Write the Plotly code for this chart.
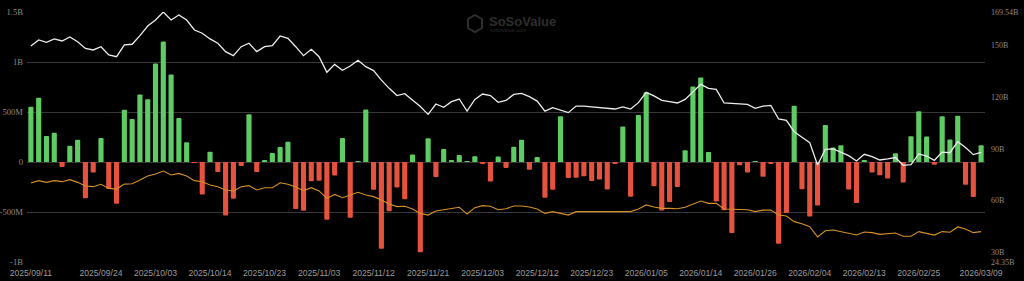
import pandas as pd
import plotly.graph_objects as go

# ---------------- data ----------------
holidays = ["2025-11-27", "2025-12-25", "2026-01-01", "2026-01-19", "2026-02-16"]
_days = pd.bdate_range("2025-09-11", "2026-03-09")
dates = [d.strftime("%Y/%m/%d") for d in _days if d.strftime("%Y-%m-%d") not in holidays]

# daily total net inflow (million USD)
net_inflow_m = [
    553, 642, 260, 293, -51, 163, 223, -363, -104, 241,
    -270, -418, 522, 430, 676, 627, 985, 1205, 876, 441,
    198, -5, -326, 103, -100, -536, -367, -40, 477, -101,
    20, 91, 149, 202, -471, -488, -192, -187, -578, -135,
    240, -558, 1, 524, -278, -867, -492, -254, -373, 75,
    -903, 238, -151, 129, 21, 71, 8, 58, -15, -195,
    55, -60, 152, 223, -77, 49, -358, -277, 457, -161,
    -158, -142, -189, -175, -276, -19, 355, -348, 471, 697,
    -243, -486, -399, -250, 117, 754, 844, 100, -395, -483,
    -709, -32, -104, 7, -147, -20, -818, -510, 562, -272,
    -545, -434, 371, 145, 167, -276, -410, 15, -105, -133,
    -166, 88, -204, 258, 507, 254, -28, 458, 225, 462,
    -228, -349, 167,
]

# total net assets (billion USD)
net_assets_b = [
    149.8, 153.3, 151.9, 153.9, 152.7, 155.0, 152.3, 148.4, 147.5, 149.4,
    144.6, 143.6, 150.4, 150.8, 155.8, 161.4, 164.9, 169.5, 164.9, 167.8,
    164.9, 159.1, 157.2, 153.9, 151.4, 146.5, 144.2, 149.4, 151.4, 146.5,
    149.4, 150.0, 155.6, 154.2, 149.4, 144.2, 147.9, 143.6, 134.5, 139.1,
    135.7, 138.2, 141.5, 137.8, 135.5, 130.0, 125.2, 121.0, 122.1, 118.4,
    114.6, 110.1, 116.1, 114.2, 117.5, 119.0, 112.0, 118.8, 121.9, 121.0,
    117.1, 118.2, 121.7, 122.3, 120.4, 117.8, 112.0, 114.0, 112.6, 111.1,
    114.9, 114.9, 114.4, 114.0, 113.6, 113.2, 114.4, 113.2, 116.9, 122.9,
    120.8, 118.2, 117.5, 116.7, 118.8, 122.9, 127.5, 125.2, 124.6, 116.7,
    116.3, 116.1, 115.9, 113.6, 114.9, 115.3, 107.4, 106.6, 100.0, 96.8,
    93.7, 80.7, 89.8, 90.0, 88.2, 86.1, 83.0, 86.9, 85.5, 83.6,
    84.2, 85.0, 80.5, 80.9, 87.1, 85.9, 83.4, 88.2, 87.8, 94.2,
    90.9, 86.7, 88.0,
]

# second line (orange), read in right-axis units
orange_line = [
    70.2, 71.6, 70.6, 71.6, 71.0, 72.2, 70.6, 68.5, 68.1, 69.5,
    67.1, 66.7, 69.6, 69.8, 72.0, 74.3, 75.5, 77.2, 74.9, 75.8,
    74.3, 71.6, 71.0, 69.1, 68.1, 66.2, 65.6, 68.1, 68.7, 66.2,
    67.5, 67.5, 70.4, 69.5, 67.9, 65.8, 67.5, 65.6, 61.3, 63.6,
    61.7, 63.3, 64.8, 63.3, 62.3, 60.4, 58.0, 56.5, 56.7, 55.1,
    52.6, 51.6, 54.0, 54.7, 55.5, 56.1, 52.2, 55.9, 57.1, 56.7,
    54.7, 55.3, 56.9, 56.9, 56.3, 55.1, 52.6, 53.6, 52.6, 51.6,
    53.6, 53.6, 53.6, 53.4, 53.4, 53.4, 53.6, 53.6, 55.1, 57.5,
    56.3, 55.5, 55.5, 55.3, 56.1, 58.0, 59.8, 58.4, 58.4, 55.1,
    54.9, 54.9, 54.7, 53.6, 54.5, 54.5, 51.6, 51.1, 47.8, 46.6,
    44.9, 38.9, 42.5, 42.9, 42.0, 41.0, 40.0, 41.8, 41.4, 40.4,
    40.8, 41.2, 39.3, 39.3, 42.0, 41.2, 40.0, 42.0, 41.6, 44.7,
    43.5, 41.4, 42.0,
]

x_tick_labels = [
    "2025/09/11", "2025/09/24", "2025/10/03", "2025/10/14", "2025/10/23",
    "2025/11/03", "2025/11/12", "2025/11/21", "2025/12/03", "2025/12/12",
    "2025/12/23", "2026/01/05", "2026/01/14", "2026/01/26", "2026/02/04",
    "2026/02/13", "2026/02/25", "2026/03/09",
]
left_tick_vals = [-1000, -500, 0, 500, 1000, 1500]
left_tick_text = ["-1B", "-500M", "0", "500M", "1B", "1.5B"]
right_tick_vals = [24.35, 30, 60, 90, 120, 150, 169.54]
right_tick_text = ["24.35B", "30B", "60B", "90B", "120B", "150B", "169.54B"]

# ---------------- figure ----------------
GREEN = "#5fcb63"
RED = "#e5533f"
bar_colors = [GREEN if v >= 0 else RED for v in net_inflow_m]

fig = go.Figure()
fig.add_trace(go.Bar(
    x=dates, y=net_inflow_m, marker=dict(color=bar_colors, line=dict(width=0), cornerradius=1),
    yaxis="y", name="Daily Net Inflow",
))
fig.add_trace(go.Scatter(
    x=dates, y=orange_line, yaxis="y2", mode="lines",
    line=dict(color="#d4902a", width=1.1), name="orange",
))
fig.add_trace(go.Scatter(
    x=dates, y=net_assets_b, yaxis="y2", mode="lines",
    line=dict(color="#ececec", width=1.3), name="Total Net Assets",
))

PL, PR, PT, PB = 27, 985, 12, 262
W, H = 1024, 281
PW, PH = PR - PL, PB - PT

def px(x):
    return (x - PL) / PW

def py(y):
    return (PB - y) / PH

fig.update_layout(
    width=W, height=H,
    margin=dict(l=PL, r=W - PR, t=PT, b=H - PB, autoexpand=False),
    paper_bgcolor="#000000", plot_bgcolor="#000000",
    showlegend=False, bargap=0.34,
    xaxis=dict(
        type="category", tickmode="array", tickvals=x_tick_labels, ticktext=x_tick_labels,
        showgrid=False, zeroline=False, showline=False, ticks="",
        tickangle=0, automargin=False, ticklabelstandoff=4,
        tickfont=dict(family="Liberation Sans, Arial, sans-serif", size=8.6, color="#9a9a9a"),
        range=[-0.5, len(dates) - 0.5],
    ),
    yaxis=dict(
        range=[-1000, 1500], tickmode="array", tickvals=left_tick_vals, ticktext=left_tick_text,
        showgrid=True, gridcolor="#383838", gridwidth=1, zeroline=False, ticks="",
        automargin=False,
        tickfont=dict(family="Liberation Serif, Times New Roman, serif", size=8.6, color="#8a8a8a"),
        ticklabelstandoff=3,
    ),
    yaxis2=dict(
        overlaying="y", side="right", range=[24.35, 169.54],
        tickmode="array", tickvals=right_tick_vals, ticktext=right_tick_text,
        showgrid=False, zeroline=False, ticks="", automargin=False,
        tickfont=dict(family="Liberation Serif, Times New Roman, serif", size=8, color="#8a8a8a"),
        ticklabelstandoff=5,
    ),
)

# watermark
fig.add_annotation(
    xref="paper", yref="paper", x=px(487), y=py(21),
    xanchor="left", yanchor="middle", showarrow=False,
    text="<b>SoSoValue</b>", font=dict(family="Liberation Sans, Arial", size=13, color="#2e2e2e"),
)
fig.add_annotation(
    xref="paper", yref="paper", x=px(488), y=py(30),
    xanchor="left", yanchor="middle", showarrow=False,
    text="sosovalue.com", font=dict(family="Liberation Sans, Arial", size=5.5, color="#282828"),
)
# logo hexagon
fig.add_shape(
    type="path", xref="paper", yref="paper",
    path="M {} {} L {} {} L {} {} L {} {} L {} {} L {} {} Z".format(
        px(475), py(15), px(482), py(19), px(482), py(28),
        px(475), py(32), px(468), py(28), px(468), py(19),
    ),
    line=dict(color="#2e2e2e", width=2), fillcolor="rgba(0,0,0,0)",
)

fig.write_html("out.html")
